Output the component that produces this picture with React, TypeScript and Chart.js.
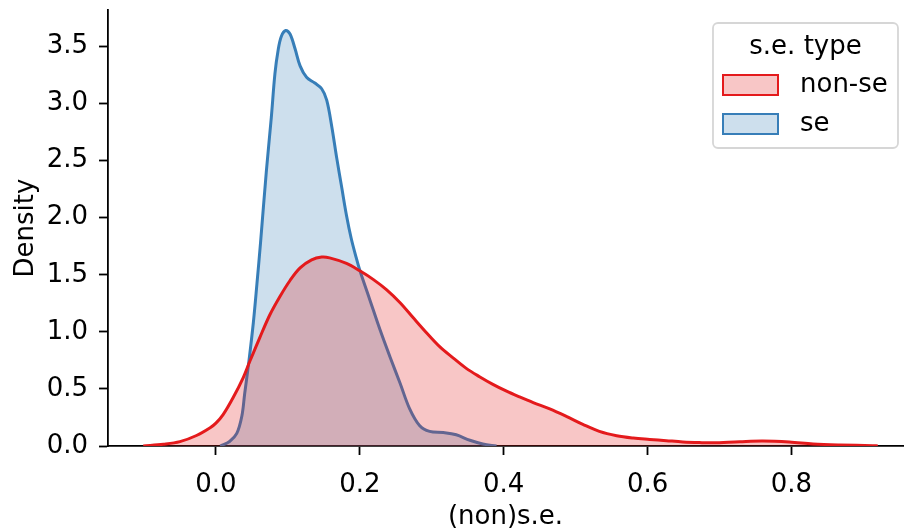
import React, { useEffect, useRef } from "react";
import { Chart, registerables } from "chart.js";

Chart.register(...registerables);

// Series: non-se (red)
const nonSeX = [-0.101, -0.073, -0.05, -0.027, -0.008, 0.0, 0.01, 0.024, 0.038, 0.047, 0.061, 0.075, 0.089, 0.103, 0.117, 0.133, 0.147, 0.158, 0.1815, 0.2, 0.2185, 0.237, 0.256, 0.274, 0.293, 0.311, 0.33, 0.348, 0.367, 0.385, 0.404, 0.422, 0.441, 0.464, 0.487, 0.51, 0.533, 0.557, 0.58, 0.603, 0.626, 0.649, 0.672, 0.69, 0.728, 0.76, 0.797, 0.83, 0.867, 0.913, 0.92];
const nonSeY = [0.0, 0.015, 0.038, 0.092, 0.16, 0.2, 0.275, 0.425, 0.6, 0.74, 0.95, 1.15, 1.31, 1.45, 1.56, 1.63, 1.655, 1.648, 1.6, 1.535, 1.46, 1.37, 1.255, 1.125, 0.99, 0.87, 0.77, 0.68, 0.605, 0.54, 0.48, 0.43, 0.38, 0.325, 0.26, 0.19, 0.128, 0.09, 0.07, 0.058, 0.047, 0.036, 0.03, 0.028, 0.038, 0.044, 0.035, 0.018, 0.009, 0.003, 0.0];

// Series: se (blue)
const seX = [0.006, 0.019, 0.029, 0.036, 0.04, 0.046, 0.052, 0.057, 0.062, 0.07, 0.077, 0.082, 0.0865, 0.091, 0.097, 0.103, 0.11, 0.117, 0.126, 0.1375, 0.147, 0.154, 0.161, 0.168, 0.175, 0.1815, 0.188, 0.195, 0.2, 0.214, 0.228, 0.242, 0.256, 0.269, 0.283, 0.297, 0.316, 0.334, 0.353, 0.371, 0.39];
const seY = [0.0, 0.04, 0.11, 0.26, 0.46, 0.75, 1.08, 1.42, 1.78, 2.4, 2.88, 3.26, 3.47, 3.59, 3.64, 3.61, 3.48, 3.33, 3.23, 3.18, 3.13, 3.03, 2.8, 2.52, 2.26, 2.02, 1.82, 1.65, 1.54, 1.28, 1.02, 0.78, 0.55, 0.33, 0.18, 0.128, 0.118, 0.098, 0.05, 0.018, 0.0];

const xTicks = [0.0, 0.2, 0.4, 0.6, 0.8];
const yTicks = [0.0, 0.5, 1.0, 1.5, 2.0, 2.5, 3.0, 3.5];

const seriesLabels = ["non-se", "se"];
const legendTitle = "s.e. type";
const xTitle = "(non)s.e.";
const yTitle = "Density";

const FONT = "'DejaVu Sans', 'Liberation Sans', sans-serif";

const legendPlugin = {
  id: "kdeLegend",
  afterDraw(chart: any) {
    const ctx = chart.ctx;
    const area = chart.chartArea;
    const w = 185;
    const h = 125;
    const x0 = area.right - 5 - w;
    const y0 = area.top + 13;
    ctx.save();
    ctx.beginPath();
    ctx.roundRect(x0, y0, w, h, 5);
    ctx.fillStyle = "rgba(255,255,255,0.85)";
    ctx.fill();
    ctx.lineWidth = 1.8;
    ctx.strokeStyle = "#d6d6d6";
    ctx.stroke();
    ctx.font = `26px ${FONT}`;
    ctx.fillStyle = "#000";
    ctx.textBaseline = "middle";
    ctx.textAlign = "center";
    ctx.fillText(legendTitle, x0 + w / 2, y0 + 24);
    chart.data.datasets.forEach((ds: any, i: number) => {
      const cy = y0 + 62 + i * 39;
      ctx.fillStyle = ds.backgroundColor;
      ctx.fillRect(x0 + 10, cy - 10, 55, 20);
      ctx.lineWidth = 2;
      ctx.strokeStyle = ds.borderColor;
      ctx.strokeRect(x0 + 10, cy - 10, 55, 20);
      ctx.fillStyle = "#000";
      ctx.textAlign = "left";
      ctx.fillText(ds.label, x0 + 87, cy);
    });
    ctx.restore();
  },
};

export default function App() {
  const ref = useRef<HTMLCanvasElement | null>(null);

  useEffect(() => {
    if (!ref.current) return;
    const tickFont = { family: FONT, size: 26 };
    const chart = new Chart(ref.current, {
      type: "line",
      data: {
        datasets: [
          {
            label: seriesLabels[0],
            data: nonSeX.map((x, i) => ({ x, y: nonSeY[i] })),
            borderColor: "#e41a1c",
            backgroundColor: "rgba(228,26,28,0.25)",
            borderWidth: 3,
            fill: "origin",
            pointRadius: 0,
            tension: 0.35,
          },
          {
            label: seriesLabels[1],
            data: seX.map((x, i) => ({ x, y: seY[i] })),
            borderColor: "#377eb8",
            backgroundColor: "rgba(55,126,184,0.25)",
            borderWidth: 3,
            fill: "origin",
            pointRadius: 0,
            tension: 0.35,
          },
        ],
      },
      options: {
        responsive: false,
        animation: false,
        devicePixelRatio: 1,
        layout: { padding: { top: 10, right: 1, left: 0, bottom: 0 } },
        plugins: { legend: { display: false }, tooltip: { enabled: false } },
        scales: {
          x: {
            type: "linear",
            min: -0.15,
            max: 0.955,
            afterBuildTicks: (s: any) => {
              s.ticks = xTicks.map((v) => ({ value: v }));
            },
            afterFit: (s: any) => {
              s.height = 84;
              s.paddingLeft = 0;
              s.paddingRight = 0;
            },
            ticks: {
              callback: (v: any) => Number(v).toFixed(1),
              font: tickFont,
              color: "#000",
              padding: 15,
              maxRotation: 0,
              autoSkip: false,
            },
            grid: {
              display: true,
              drawOnChartArea: false,
              drawTicks: true,
              tickLength: 9,
              tickWidth: 1.8,
              tickColor: "#000",
              color: "#000",
            },
            border: { display: true, color: "#000", width: 1.8 },
            title: {
              display: true,
              text: xTitle,
              font: { family: FONT, size: 26, lineHeight: 0.95 },
              color: "#000",
              padding: { top: 0, bottom: 0 },
            },
          },
          y: {
            type: "linear",
            min: 0,
            max: 3.82,
            afterBuildTicks: (s: any) => {
              s.ticks = yTicks.map((v) => ({ value: v }));
            },
            afterFit: (s: any) => {
              s.width = 108;
              s.paddingTop = 0;
              s.paddingBottom = 0;
            },
            ticks: {
              callback: (v: any) => Number(v).toFixed(1),
              font: tickFont,
              color: "#000",
              padding: 11,
              autoSkip: false,
            },
            grid: {
              display: true,
              drawOnChartArea: false,
              drawTicks: true,
              tickLength: 9,
              tickWidth: 1.8,
              tickColor: "#000",
              color: "#000",
            },
            border: { display: true, color: "#000", width: 1.8 },
            title: { display: true, text: yTitle, font: tickFont, color: "#000", padding: { top: 11, bottom: 0 } },
          },
        },
      },
      plugins: [legendPlugin],
    } as any);
    return () => chart.destroy();
  }, []);

  return (
    <div style={{ position: "absolute", left: 0, top: 0, width: 904, height: 530, background: "#fff" }}>
      <canvas ref={ref} width={904} height={530} style={{ width: 904, height: 530 }} />
    </div>
  );
}
